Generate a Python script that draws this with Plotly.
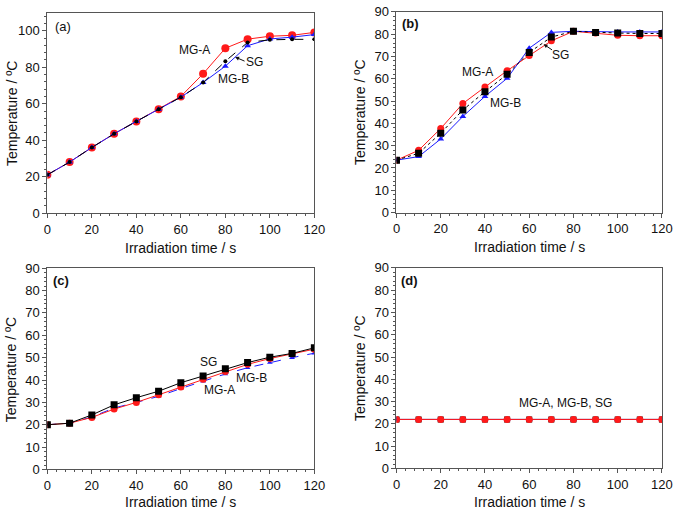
import plotly.graph_objects as go

# ---------------- data ----------------
time_s = [0, 10, 20, 30, 40, 50, 60, 70, 80, 90, 100, 110, 120]

# panel (a)
a_mga = [21, 28, 36, 43.5, 50.3, 57, 64, 76.4, 90.4, 95.4, 97, 97.5, 99.1]
a_mgb = [21, 28, 36, 43.5, 50.3, 57, 63.6, 71.6, 80.6, 91.8, 95.5, 96.5, 97.9]
a_sg = [21, 28, 36, 43.5, 50.3, 57, 63.6, 71.6, 83.3, 93.6, 95.0, 95.3, 95.3]

# panel (b)
b_mga = [23.5, 27.9, 37.7, 48.9, 56.3, 63.6, 70.4, 77.0, 81.3, 80.5, 79.5, 79.3, 79.3]
b_mgb = [23.5, 25.1, 33.0, 43.1, 52.1, 60.2, 73.7, 80.8, 81.3, 81.0, 81.0, 81.0, 81.0]
b_sg = [23.5, 26.6, 35.6, 46.0, 54.2, 62.0, 71.8, 78.7, 81.3, 80.8, 80.5, 80.3, 80.3]

# panel (c)
c_mga = [20, 20.7, 23.3, 27.0, 30.0, 33.4, 36.9, 40.4, 43.8, 47.0, 49.6, 51.7, 53.8]
c_mgb = [20, 20.7, 23.5, 27.5, 30.0, 32.7, 36.2, 39.5, 42.7, 45.5, 47.8, 50.0, 52.0]
c_sg = [20, 20.7, 24.4, 28.9, 32.1, 35.0, 38.8, 41.8, 45.0, 47.8, 50.2, 51.9, 54.4]

# panel (d)
d_mga = [22] * 13
d_mgb = [22] * 13
d_sg = [22] * 13

FONT = "Liberation Sans, Arial, sans-serif"
RED = "#ff1a1a"
BLUE = "#1a1aff"
BLACK = "#000000"

fig = go.Figure()


def add(x, y, ax, color, symbol, size, dash, name, width=1):
    fig.add_trace(go.Scatter(
        x=x, y=y, mode="lines+markers", name=name, showlegend=False,
        xaxis="x" + ax, yaxis="y" + ax,
        line=dict(color=color, width=width, dash=dash),
        marker=dict(color=color, symbol=symbol, size=size, line=dict(width=0)),
    ))


# (a)
add(time_s, a_mga, "", RED, "circle", 8, "solid", "MG-A")
add(time_s, a_mgb, "", BLUE, "triangle-up", 6, "solid", "MG-B")
add(time_s, a_sg, "", BLACK, "circle", 4, "dash", "SG")
# (b)
add(time_s, b_mga, "2", RED, "circle", 7, "solid", "MG-A")
add(time_s, b_mgb, "2", BLUE, "triangle-up", 6, "solid", "MG-B")
add(time_s, b_sg, "2", BLACK, "square", 7, "dot", "SG")
# (c)
add(time_s, c_mgb, "3", BLUE, "triangle-up", 5, "dash", "MG-B")
add(time_s, c_mga, "3", RED, "circle", 7, "solid", "MG-A")
add(time_s, c_sg, "3", BLACK, "square", 7, "solid", "SG")
# (d)
add(time_s, d_sg, "4", BLACK, "square", 6, "solid", "SG")
add(time_s, d_mgb, "4", BLUE, "triangle-up", 6, "solid", "MG-B")
add(time_s, d_mga, "4", RED, "circle", 7, "solid", "MG-A")

AXCOL = "#555555"
TICKSIZE = 13


def xax(domain, anchor):
    return dict(domain=domain, anchor=anchor, range=[0, 120], dtick=20, tick0=0,
                showgrid=False, zeroline=False, showline=True, linecolor=AXCOL,
                linewidth=1, mirror=True, ticks="outside", ticklen=4, tickcolor=AXCOL,
                minor=dict(dtick=4, ticks="outside", ticklen=2, tickcolor=AXCOL),
                tickfont=dict(size=TICKSIZE, color="#111", family=FONT))


def yax(domain, anchor, top, dtick, mdtick):
    return dict(domain=domain, anchor=anchor, range=[0, top], dtick=dtick, tick0=0,
                showgrid=False, zeroline=False, showline=True, linecolor=AXCOL,
                linewidth=1, mirror=True, ticks="outside", ticklen=4, tickcolor=AXCOL,
                minor=dict(dtick=mdtick, ticks="outside", ticklen=2, tickcolor=AXCOL),
                tickfont=dict(size=TICKSIZE, color="#111", family=FONT))


fig.update_layout(
    width=685, height=517,
    margin=dict(l=0, r=0, t=0, b=0),
    paper_bgcolor="white", plot_bgcolor="white",
    font=dict(family=FONT, color="#111"),
    xaxis=xax([0.0647, 0.4632], "y"),
    yaxis=yax([0.5894, 0.9890], "x", 110, 20, 4),
    xaxis2=xax([0.5858, 0.9820], "y2"),
    yaxis2=yax([0.5905, 0.9903], "x2", 90, 10, 2),
    xaxis3=xax([0.0647, 0.4632], "y3"),
    yaxis3=yax([0.0787, 0.4797], "x3", 90, 10, 2),
    xaxis4=xax([0.5858, 0.9820], "y4"),
    yaxis4=yax([0.0807, 0.4803], "x4", 90, 10, 2),
)

ann = []


def txt(x, y, ax, text, size=12, bold=False):
    ann.append(dict(x=x, y=y, xref="x" + ax, yref="y" + ax, text=("<b>%s</b>" % text) if bold else text,
                    showarrow=False, font=dict(size=size, family=FONT, color="#111"),
                    xanchor="center", yanchor="middle"))


def arrow(x, y, ax, tx, ty):
    ann.append(dict(x=x, y=y, xref="x" + ax, yref="y" + ax, ax=tx, ay=ty,
                    axref="x" + ax, ayref="y" + ax, text="", showarrow=True,
                    arrowhead=2, arrowsize=0.8, arrowwidth=1, arrowcolor="#111"))


# (a)
txt(6.9, 102.5, "", "(a)", 13)
txt(66.2, 89.5, "", "MG-A")
txt(92.9, 82.6, "", "SG")
txt(83.8, 73.7, "", "MG-B")
arrow(84.4, 85.6, "", 89.3, 83.0)
# (b)
txt(6.3, 84.9, "2", "(b)", 13, True)
txt(36.7, 63.1, "2", "MG-A")
txt(49.5, 49.0, "2", "MG-B")
txt(74.2, 70.7, "2", "SG")
arrow(66.5, 75.5, "2", 71.0, 72.5)
# (c)
txt(6.2, 84.4, "3", "(c)", 13, True)
txt(72.5, 48.2, "3", "SG")
txt(91.9, 40.9, "3", "MG-B")
txt(77.2, 35.4, "3", "MG-A")
# (d)
txt(5.9, 84.5, "4", "(d)", 13, True)
txt(76.6, 29.3, "4", "MG-A, MG-B, SG")

# axis titles
for x, y in [(0.011, 0.7895), (0.531, 0.7904), (0.011, 0.279), (0.531, 0.2805)]:
    ann.append(dict(x=x, y=y, xref="paper", yref="paper", text="Temperature / ºC",
                    textangle=-90, showarrow=False, xanchor="center", yanchor="middle",
                    font=dict(size=14, family=FONT, color="#111")))
for x, y in [(0.264, 0.520), (0.785, 0.521), (0.264, 0.014), (0.785, 0.014)]:
    ann.append(dict(x=x, y=y, xref="paper", yref="paper", text="Irradiation time / s",
                    showarrow=False, xanchor="center", yanchor="middle",
                    font=dict(size=14, family=FONT, color="#111")))

fig.update_layout(annotations=ann)
fig.write_html(
    "out.html",
    config={"displayModeBar": False},
    post_script="document.body.style.margin='0';document.body.style.padding='0';document.body.style.overflow='hidden';",
)
